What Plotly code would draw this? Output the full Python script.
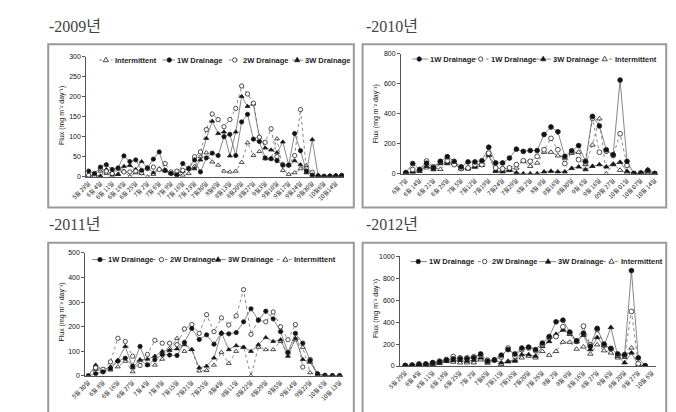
import plotly.graph_objects as go

W, H = 676, 412

# ---------------- data ----------------
dates09 = ["5월 28일","5월 31일","6월 4일","6월 8일","6월 11일","6월 15일","6월 18일","6월 22일","6월 25일","6월 29일",
           "7월 2일","7월 4일","7월 6일","7월 8일","7월 9일","7월 13일","7월 16일","7월 20일","7월 23일","7월 27일",
           "7월30일","8월3일","8월6일","8월10일","8월13일","8월17일","8월20일","8월24일","8월27일","8월31일",
           "9월3일","9월7일","9월10일","9월14일","9월17일","9월21일","9월24일","9월28일","9월30일","10월2일",
           "10월6일","10월9일","10월14일","10월16일"]
int09 = [2, 4, 14, 8, 10, 6, 14, 0, 10, 8, 0, 6, 20, 14, 8, 6, 4, 8, 26, 50,
         60, 37, 29, 14, 12, 14, 36, 85, 53, 63, 45, 45, 95, 16, 6, 10, 20, 28, 4, 2, 1, 1, 2, 2]
w1_09 = [14, 8, 24, 30, 18, 22, 52, 38, 42, 16, 22, 44, 62, 16, 8, 4, 33, 20, 42, 12,
         47, 59, 53, 100, 106, 53, 137, 156, 94, 88, 47, 45, 40, 29, 29, 108, 65, 14, 4, 2, 1, 2, 2, 3]
w2_09 = [4, 2, 20, 14, 8, 20, 12, 12, 14, 10, 20, 24, 18, 33, 12, 14, 16, 20, 50, 62,
         118, 157, 143, 125, 143, 171, 227, 207, 184, 99, 86, 120, 50, 30, 29, 53, 168, 20, 11, 2, 1, 1, 2, 3]
w3_09 = [4, 4, 2, 18, 4, 6, 26, 28, 18, 38, 22, 10, 18, 16, 10, 8, 14, 22, 20, 42,
         96, 139, 108, 112, 52, 112, 201, 176, 182, 100, 72, 67, 60, 87, 29, 40, 30, 10, 93, 2, 1, 1, 2, 4]

dates10 = ["6월 7일","6월 10일","6월 14일","6월 17일","6월 21일","6월 24일","6월 28일","7월 1일","7월 5일","7월 8일",
           "7월12일","7월15일","7월19일","7월22일","7월24일","7월26일","7월29일","7월31일","8월 2일","8월 5일",
           "8월 9일","8월12일","8월16일","8월23일","8월30일","9월 2일","9월 6일","9월 9일","9월 16일","9월 20일",
           "09월 27일","9월 29일","10월 01일","10월 04일","10월 07일","10월 11일","10월 14일"]
w1_10 = [7, 68, 28, 70, 40, 83, 114, 83, 46, 79, 79, 87, 177, 72, 72, 105, 164, 149, 155, 155,
         262, 312, 280, 116, 153, 188, 83, 383, 319, 160, 127, 625, 83, 2, 5, 22, 2]
w1b_10 = [5, 28, 28, 85, 46, 79, 87, 61, 35, 39, 61, 61, 138, 39, 33, 39, 61, 87, 83, 116,
          160, 236, 160, 68, 144, 94, 72, 370, 144, 150, 122, 267, 57, 1, 2, 13, 1]
w3_10 = [0, 12, 17, 50, 28, 68, 68, 68, 33, 35, 44, 57, 122, 17, 13, 22, 7, 0, 0, 0,
         13, 17, 13, 13, 36, 46, 28, 50, 61, 46, 61, 77, 17, 1, 1, 5, 0]
int10 = [10, 15, 30, 40, 40, 30, 83, 70, 46, 33, 50, 72, 127, 22, 17, 28, 39, 83, 50, 72,
         144, 144, 120, 105, 138, 144, 61, 192, 367, 0, 66, 24, 7, 1, 2, 28, 1]

dates11 = ["5월 30일","6월 3일","6월 8일","6월 13일","6월 16일","6월 20일","6월 27일","6월 30일","7월 4일","7월 6일",
           "7월 8일","7월 12일","7월15일","7월 18일","7월21일","7월 23일","7월25일","8월 1일","8월4일","8월 8일",
           "8월11일","8월 18일","8월22일","8월 25일","8월29일","9월 1일","9월5일","9월 8일","9월14일","9월 19일",
           "9월22일","9월 29일","10월 6일","10월 10일","10월 13일"]
w1_11 = [0, 9, 16, 30, 60, 72, 40, 120, 45, 66, 87, 85, 83, 136, 193, 148, 167, 129, 173, 171,
         176, 220, 273, 227, 263, 232, 180, 96, 173, 133, 63, 9, 2, 1, 1]
w2_11 = [0, 33, 27, 57, 153, 140, 80, 42, 87, 145, 133, 133, 127, 191, 209, 173, 249, 180, 236, 207,
         244, 351, 169, 227, 220, 260, 200, 147, 209, 36, 67, 4, 2, 1, 1]
w3_11 = [0, 44, 24, 37, 64, 120, 33, 66, 68, 80, 100, 104, 110, 127, 107, 33, 40, 73, 176, 107,
         123, 117, 100, 127, 156, 140, 147, 80, 153, 67, 56, 5, 1, 1, 0]
int11 = [0, 27, 20, 24, 37, 60, 17, 62, 44, 44, 68, 112, 153, 100, 108, 20, 22, 44, 96, 51,
         100, 117, 0, 117, 107, 107, 140, 93, 147, 116, 13, 3, 1, 0, 0]

dates12 = ["5월 29일","6월 1일","6월 4일","6월 7일","6월 11일","6월 14일","6월 18일","6월 21일","6월 25일","6월 28일",
           "7월 2일","7월 4일","7월6일","7월 9일","7월11일","7월 13일","7월16일","7월 18일","7월20일","7월 23일",
           "7월 26일","7월 30일","8월 2일","8월 6일","8월 9일","8월 13일","8월 16일","8월 20일","8월 27일","8월 31일",
           "9월 6일","9월 13일","9월 20일","9월 24일","9월 27일","10월 2일","10월 6일"]
w1_12 = [5, 8, 15, 18, 30, 39, 54, 66, 66, 66, 75, 110, 45, 54, 99, 150, 110, 164, 173, 150,
         209, 269, 403, 418, 310, 230, 300, 179, 343, 200, 160, 110, 104, 870, 75, 3, None]
w2_12 = [4, 8, 20, 18, 30, 45, 60, 87, 75, 75, 84, 99, 54, 57, 81, 164, 90, 150, 165, 140,
         195, 260, 269, 358, 300, 225, 364, 194, 334, 190, 158, 99, 95, 498, 21, 2, None]
w3_12 = [3, 6, 12, 15, 20, 30, 45, 51, 51, 45, 54, 75, 39, 57, 30, 39, 45, 104, 104, 90,
         179, 224, 290, 328, 290, 220, 280, 150, 260, 185, 352, 90, 30, 120, 10, 1, None]
int12 = [3, 5, 10, 12, 15, 24, 45, 36, 30, 30, 30, 57, 27, 51, 15, 45, 60, 75, 90, 75,
         134, 99, 134, 218, 218, 155, 175, 110, 194, 140, 120, 75, 80, 165, 5, 1, None]

titles = ["-2009년", "-2010년", "-2011년", "-2012년"]
ytitle = "Flux (mg m⁻² day⁻¹)"

# ---------------- styles ----------------
LINE_C = "#6a6a6a"
MK_C = "#222222"
STYLE = {
    "1W": dict(symbol="circle", fill="#111111", dash="solid"),
    "2W": dict(symbol="circle", fill="white", dash="dot"),
    "3W": dict(symbol="triangle-up", fill="#111111", dash="solid"),
    "Int": dict(symbol="triangle-up", fill="white", dash="dot"),
}

panels = [
    dict(dates=dates09, series=[("Int", "Intermittent", int09), ("1W", "1W Drainage", w1_09),
                                ("2W", "2W Drainage", w2_09), ("3W", "3W Drainage", w3_09)],
         xdom=(72, 336), xr=(-0.4, 43.4), ydom=(53.7, 175.7), yr=(0, 300), dtick=50, ms=4.3,
         legy=57, leg=[(85, 99, 92, 100), (150, 163, 157, 164), (218, 230, 224, 231), (283, 294, 288, 295)],
         title=(32, 23), ytit=(47, 113)),
    dict(dates=dates10, series=[("1W", "1W Drainage", w1_10), ("2W", "1W Drainage", w1b_10),
                                ("3W", "3W Drainage", w3_10), ("Int", "Intermittent", int10)],
         xdom=(394.3, 657.7), xr=(-0.7, 36.5), ydom=(50.7, 172.7), yr=(0, 800), dtick=200, ms=4.8,
         legy=56, leg=[(406, 422, 413, 423), (469, 484, 476, 485), (533, 548, 540, 549), (595, 612, 603, 613)],
         title=(356, 23), ytit=(369, 112)),
    dict(dates=dates11, series=[("1W", "1W Drainage", w1_11), ("2W", "2W Drainage", w2_11),
                                ("3W", "3W Drainage", w3_11), ("Int", "Intermittent", int11)],
         xdom=(71, 335), xr=(-0.4, 34.45), ydom=(253.3, 378.3), yr=(0, 500), dtick=100, ms=4.3,
         legy=260, leg=[(78, 92, 86, 93), (140, 156, 149, 157), (200, 215, 207, 216), (267, 283, 276, 284)],
         title=(32, 224), ytit=(47, 313)),
    dict(dates=dates12, series=[("1W", "1W Drainage", w1_12), ("2W", "2W Drainage", w2_12),
                                ("3W", "3W Drainage", w3_12), ("Int", "Intermittent", int12)],
         xdom=(393.3, 656), xr=(-0.77, 36.65), ydom=(256.7, 368.3), yr=(0, 1000), dtick=200, ms=4.8,
         legy=262, leg=[(404, 421, 412, 422), (473, 486, 480, 487), (536, 553, 545, 554), (601, 618, 610, 619)],
         title=(356, 224), ytit=(368, 310)),
]

boxes = [(33, 41, 346, 207), (355, 41, 666, 207), (33, 243, 346, 440), (355, 243, 666, 440)]

fig = go.Figure()
layout = dict(width=W, height=H, margin=dict(l=0, r=0, t=0, b=0), paper_bgcolor="white",
              plot_bgcolor="white", showlegend=False)

def px(x):
    return x / W

def py(y):
    return 1 - y / H

for i, p in enumerate(panels):
    k = "" if i == 0 else str(i + 1)
    draw_order = sorted(p["series"], key=lambda s: ["Int", "3W", "2W", "1W"].index(s[0]))
    for key, name, vals in draw_order:
        st = STYLE[key]
        fig.add_trace(go.Scatter(
            x=p["dates"][:len(vals)], y=vals, name=name, mode="lines+markers",
            xaxis="x" + k, yaxis="y" + k, connectgaps=False,
            line=dict(color=LINE_C, width=0.8, dash=st["dash"]),
            marker=dict(symbol=st["symbol"], size=p["ms"], color=st["fill"],
                        line=dict(color=MK_C, width=0.8)),
        ))
    layout["xaxis" + k] = dict(
        domain=[px(p["xdom"][0]), px(p["xdom"][1])], anchor="y" + k, type="category",
        categoryorder="array", categoryarray=p["dates"], range=list(p["xr"]),
        tickmode="array", tickvals=p["dates"][::2], tickangle=-45,
        tickfont=dict(family="Noto Sans CJK KR, Liberation Sans", size=6, color="#111"),
        showline=True, linecolor="#555", linewidth=1, ticks="", showgrid=False, zeroline=False,
    )
    layout["yaxis" + k] = dict(
        domain=[py(p["ydom"][1]), py(p["ydom"][0])], anchor="x" + k, range=list(p["yr"]),
        dtick=p["dtick"], showline=True, linecolor="#555", linewidth=1, ticks="outside",
        ticklen=3, tickcolor="#555", showgrid=False, zeroline=False,
        tickfont=dict(family="Liberation Sans", size=7, color="#111"),
    )
    # panel title
    fig.add_annotation(x=px(p["title"][0]), y=py(p["title"][1]), xref="paper", yref="paper",
                       text=titles[i], showarrow=False, xanchor="left", yanchor="middle",
                       font=dict(family="Liberation Serif, Noto Sans CJK KR", size=16, color="#444"))
    # y-axis title
    fig.add_annotation(x=px(p["ytit"][0]), y=py(p["ytit"][1]), xref="paper", yref="paper",
                       text=ytitle, showarrow=False, textangle=-90, xanchor="center", yanchor="middle",
                       font=dict(family="Liberation Sans", size=7, color="#111"))
    # legend (drawn inside the plot, compact like the reference)
    yl = py(p["legy"])
    for (key, name, vals), (x0, x1, xm, xt) in zip(p["series"], p["leg"]):
        st = STYLE[key]
        fig.add_shape(type="line", xref="paper", yref="paper", x0=px(x0), x1=px(x1), y0=yl, y1=yl,
                      line=dict(color=LINE_C, width=0.8, dash=st["dash"]))
        if st["symbol"] == "circle":
            fig.add_shape(type="circle", xref="paper", yref="paper", xsizemode="pixel", ysizemode="pixel",
                          xanchor=px(xm), yanchor=yl, x0=-2.2, x1=2.2, y0=-2.2, y1=2.2,
                          fillcolor=st["fill"], line=dict(color=MK_C, width=0.8))
        else:
            fig.add_shape(type="path", xref="paper", yref="paper", xsizemode="pixel", ysizemode="pixel",
                          xanchor=px(xm), yanchor=yl, path="M-2.6,-1.7 L2.6,-1.7 L0,2.8 Z",
                          fillcolor=st["fill"], line=dict(color=MK_C, width=0.8))
        fig.add_annotation(x=px(xt), y=yl, xref="paper", yref="paper", text=name, showarrow=False,
                           xanchor="left", yanchor="middle", borderpad=0,
                           font=dict(family="Liberation Sans", size=7.5, color="#222", weight="bold"))

for (x0, y0, x1, y1) in boxes:
    fig.add_shape(type="rect", xref="paper", yref="paper", x0=px(x0), x1=px(x1), y0=py(y1), y1=py(y0),
                  line=dict(color="#999999", width=2), fillcolor="rgba(0,0,0,0)", layer="below")

fig.update_layout(**layout)
fig.write_html("out.html")
